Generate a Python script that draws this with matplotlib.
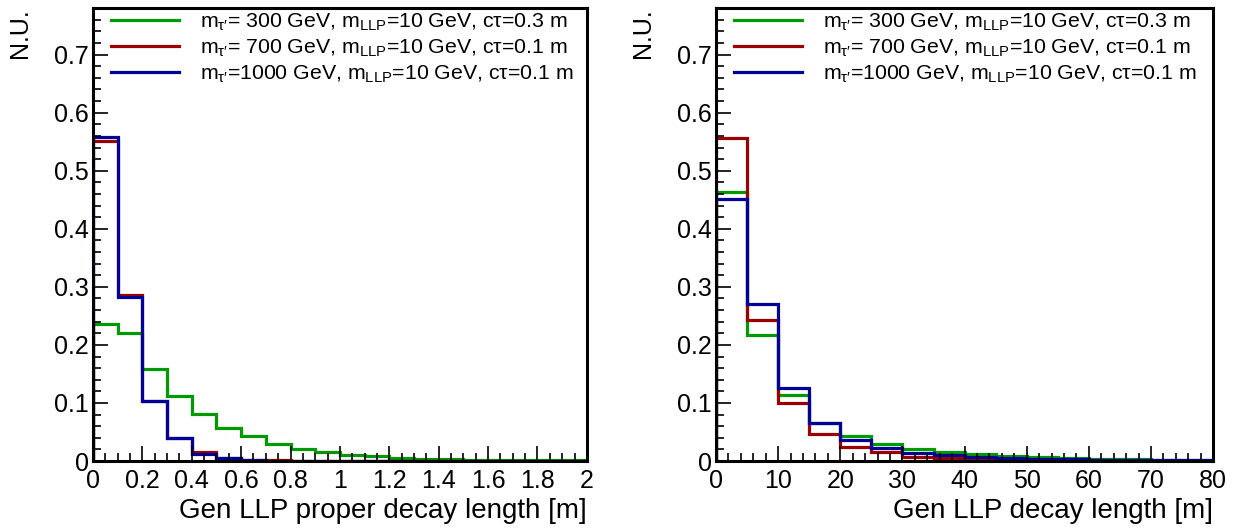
import matplotlib
matplotlib.use("Agg")
import matplotlib.pyplot as plt
from matplotlib.ticker import MultipleLocator, FormatStrFormatter

plt.rcParams['font.family'] = ['Liberation Sans', 'DejaVu Sans']
plt.rcParams['mathtext.fontset'] = 'custom'
plt.rcParams['mathtext.rm'] = 'Liberation Sans'
plt.rcParams['mathtext.it'] = 'Liberation Sans:italic'

# proper decay length, bins of 0.1 m from 0 to 2 m
edges_proper = [i * 0.1 for i in range(21)]
proper_300 = [0.236, 0.221, 0.158, 0.112, 0.081, 0.057, 0.043, 0.030, 0.021, 0.016,
              0.011, 0.008, 0.006, 0.004, 0.003, 0.002, 0.002, 0.001, 0.001, 0.001]
proper_700 = [0.551, 0.286, 0.104, 0.040, 0.0155, 0.006, 0.002, 0.001, 0.0005, 0.0002,
              0.0001, 0, 0, 0, 0, 0, 0, 0, 0, 0]
proper_1000 = [0.558, 0.282, 0.103, 0.039, 0.0126, 0.005, 0.0015, 0.0005, 0.0002, 0.0001,
               0, 0, 0, 0, 0, 0, 0, 0, 0, 0]

# lab-frame decay length, bins of 5 m from 0 to 80 m
edges_lab = [i * 5 for i in range(17)]
lab_300 = [0.464, 0.217, 0.114, 0.066, 0.043, 0.029, 0.020, 0.015,
           0.012, 0.009, 0.007, 0.005, 0.004, 0.003, 0.002, 0.002]
lab_700 = [0.557, 0.243, 0.0995, 0.046, 0.025, 0.0155, 0.0075, 0.0045,
           0.003, 0.002, 0.0015, 0.001, 0.0007, 0.0005, 0.0003, 0.0002]
lab_1000 = [0.452, 0.270, 0.126, 0.066, 0.036, 0.022, 0.013, 0.010,
            0.007, 0.005, 0.004, 0.003, 0.002, 0.0015, 0.001, 0.001]

labels = [r"m$_{\mathregular{τ′}}$= 300 GeV, m$_{\mathregular{LLP}}$=10 GeV, cτ=0.3 m",
          r"m$_{\mathregular{τ′}}$= 700 GeV, m$_{\mathregular{LLP}}$=10 GeV, cτ=0.1 m",
          r"m$_{\mathregular{τ′}}$=1000 GeV, m$_{\mathregular{LLP}}$=10 GeV, cτ=0.1 m"]
colors = ['#009900', '#990000', '#000099']

fig = plt.figure(figsize=(12.41, 5.29), dpi=100)
ax1 = fig.add_axes([0.0749, 0.1285, 0.398, 0.856])
ax2 = fig.add_axes([0.577, 0.1285, 0.4005, 0.856])


def draw(ax, edges, series, xmax, xmajor, xminor, xlabel):
    for vals, c, lab in zip(series, colors, labels):
        ax.stairs(vals, edges, color=c, lw=2.3, label=lab, baseline=0)
    ax.set_xlim(0, xmax)
    ax.set_ylim(0, 0.78)
    ax.xaxis.set_major_locator(MultipleLocator(xmajor))
    ax.xaxis.set_minor_locator(MultipleLocator(xminor))
    ax.yaxis.set_major_locator(MultipleLocator(0.1))
    ax.yaxis.set_minor_locator(MultipleLocator(0.02))
    ax.xaxis.set_major_formatter(FormatStrFormatter('%g'))
    ax.yaxis.set_major_formatter(FormatStrFormatter('%g'))
    ax.tick_params(which='both', direction='in', labelsize=18, width=1.2)
    ax.tick_params(which='major', length=11)
    ax.tick_params(which='minor', length=6)
    ax.tick_params(axis='y', pad=3)
    ax.tick_params(axis='x', pad=6)
    for sp in ax.spines.values():
        sp.set_linewidth(2.2)
    ax.set_xlabel(xlabel, fontsize=20, loc='right', labelpad=3)
    ax.legend(loc='upper left', frameon=False, fontsize=15.3, handlelength=3.2,
              handletextpad=0.95, labelspacing=0.22, borderaxespad=0.0,
              bbox_to_anchor=(0.02, 1.012))


draw(ax1, edges_proper, [proper_300, proper_700, proper_1000], 2, 0.2, 0.05,
     'Gen LLP proper decay length [m]')
draw(ax2, edges_lab, [lab_300, lab_700, lab_1000], 80, 10, 2,
     'Gen LLP decay length [m]')

fig.text(0.016, 0.985, 'N.U.', rotation=90, fontsize=18, ha='center', va='top')
fig.text(0.518, 0.985, 'N.U.', rotation=90, fontsize=18, ha='center', va='top')

fig.savefig('out.png', dpi=100)
